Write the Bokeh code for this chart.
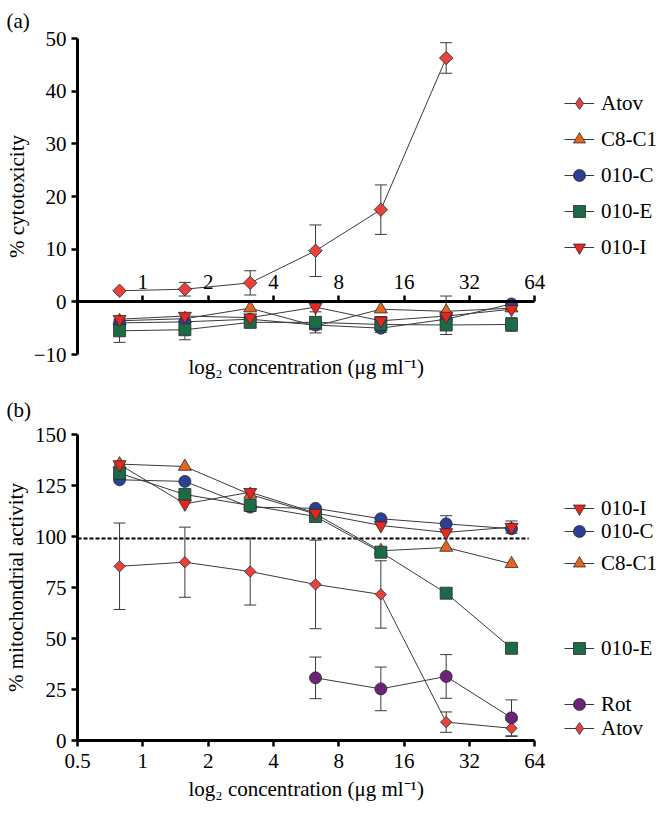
from bokeh.plotting import figure
from bokeh.models import (ColumnDataSource, Whisker, TeeHead, LogAxis, FixedTicker,
                          Legend, LegendItem, Range1d, Title)
from bokeh.layouts import column
from bokeh.embed import file_html
from bokeh.resources import INLINE

# ---------------- data ----------------
conc = [0.78125, 1.5625, 3.125, 6.25, 12.5, 25, 50]

# panel (a): % cytotoxicity
a_atov_conc = [0.78125, 1.5625, 3.125, 6.25, 12.5, 25]
a_atov = [2.1, 2.4, 3.6, 9.7, 17.5, 46.3]
a_atov_err = [0.0, 1.3, 2.3, 4.9, 4.7, 2.9]
a_c8c1 = [-3.6, -3.2, -1.2, -4.6, -1.4, -1.8, -1.2]
a_c8c1_err = [0, 0, 0, 0, 0, 2.9, 0]
a_010c = [-4.0, -3.8, -3.3, -4.4, -5.0, -3.3, -0.4]
a_010c_err = [0, 0, 0, 0, 0, 0, 0]
a_010e = [-5.5, -5.3, -3.9, -3.9, -4.3, -4.4, -4.3]
a_010e_err = [2.2, 1.9, 1.0, 2.0, 1.5, 1.8, 1.3]
a_010i = [-3.3, -2.7, -3.0, -1.0, -3.6, -2.7, -1.4]
a_010i_err = [0, 0, 0, 0, 0, 0, 0]

# panel (b): % mitochondrial activity
b_atov = [85.4, 87.4, 82.8, 76.5, 71.6, 9.0, 6.0]
b_atov_err = [21.2, 17.2, 16.4, 21.7, 16.5, 5.0, 4.0]
b_c8c1 = [135.5, 134.3, 120.6, 111.0, 93.0, 94.6, 86.6]
b_c8c1_err = [0, 0, 0, 0, 0, 0, 0]
b_010c = [127.8, 127.0, 114.4, 113.8, 108.7, 106.2, 103.8]
b_010c_err = [0, 0, 0, 0, 0, 4.0, 0]
b_010e = [131.0, 120.6, 115.2, 109.8, 92.3, 72.2, 45.2]
b_010e_err = [0, 0, 0, 0, 2.0, 0, 0]
b_010i = [135.3, 116.0, 121.7, 111.5, 105.4, 102.0, 104.6]
b_010i_err = [0, 0, 0, 0, 0, 0, 3.0]
rot_conc = [6.25, 12.5, 25, 50]
b_rot = [30.7, 25.3, 31.4, 11.1]
b_rot_err = [10.2, 10.7, 10.7, 8.8]

control_x = [0.5, 60]
control_y = [99, 99]

a_xticks = [1, 2, 4, 8, 16, 32, 64]
a_xlabels = ["1", "2", "4", "8", "16", "32", "64"]
a_yticks = [-10, 0, 10, 20, 30, 40, 50]
a_ylabels = ["\u221210", "0", "10", "20", "30", "40", "50"]
b_xticks = [0.5, 1, 2, 4, 8, 16, 32, 64]
b_xlabels = ["0.5", "1", "2", "4", "8", "16", "32", "64"]
b_yticks = [0, 25, 50, 75, 100, 125, 150]
b_ylabels = ["0", "25", "50", "75", "100", "125", "150"]

x_label = "log\u2082 concentration (\u03bcg ml\u207b\u00b9)"

# ---------------- style / layout ----------------
FONT = "Liberation Serif"
FS = "21px"
LINE_C = "#3a3a3a"
EDGE_C = "#2a2a2a"
C_ATOV = "#E8413E"
C_C8C1 = "#E5671F"
C_010C = "#2B3F94"
C_010E = "#1C6B48"
C_010I = "#E3281F"
C_ROT = "#6B2277"
W = 657
LEFT = 71
PX_PER_DOUBLING = 66
X_START = 0.5
X_AXIS_END = 64
X_END = X_START * 2 ** ((W - LEFT) / PX_PER_DOUBLING)  # frame extends over legend area
XLABEL_OFFSET = 111
LEG_X = 487


def style_axis(ax, standoff=5):
    ax.axis_line_width = 3
    ax.axis_line_color = "black"
    ax.major_tick_line_width = 2.5
    ax.major_tick_line_color = "black"
    ax.major_tick_out = 6
    ax.major_tick_in = 0
    ax.minor_tick_line_color = None
    ax.major_label_text_font = FONT
    ax.major_label_text_font_size = FS
    ax.major_label_text_color = "black"
    ax.major_label_standoff = standoff
    ax.axis_label_text_font = FONT
    ax.axis_label_text_font_size = FS
    ax.axis_label_text_font_style = "normal"
    ax.axis_label_text_color = "black"


def add_whiskers(p, x, y, err):
    xs = [a for a, e in zip(x, err) if e > 0]
    up = [b + e for b, e in zip(y, err) if e > 0]
    lo = [b - e for b, e in zip(y, err) if e > 0]
    if not xs:
        return
    src = ColumnDataSource(dict(base=xs, upper=up, lower=lo))
    w = Whisker(source=src, base="base", upper="upper", lower="lower", dimension="height",
                line_color=LINE_C, line_width=1,
                upper_head=TeeHead(size=12, line_color=LINE_C, line_width=1),
                lower_head=TeeHead(size=12, line_color=LINE_C, line_width=1))
    p.add_layout(w)


def build(p, series):
    lines, marks = {}, {}
    for name, x, y, err, marker, color, size, angle in series:
        add_whiskers(p, x, y, err)
    for name, x, y, err, marker, color, size, angle in series:
        src = ColumnDataSource(dict(x=x, y=y))
        lines[name] = p.line("x", "y", source=src, line_color=LINE_C, line_width=1)
    for name, x, y, err, marker, color, size, angle in series:
        src = ColumnDataSource(dict(x=x, y=y))
        marks[name] = p.scatter("x", "y", source=src, marker=marker, size=size, angle=angle,
                                fill_color=color, line_color=EDGE_C, line_width=0.8)
        if name == "Atov":
            # hidden twin, only used to draw a diamond in the legend
            marks["Atov_leg"] = p.scatter("x", "y", source=src, marker="diamond", size=12,
                                          fill_color=color, line_color=EDGE_C,
                                          line_width=0.8, visible=False)
    return lines, marks


def legend(items, loc, spacing=6):
    return Legend(items=items, location=loc, orientation="vertical",
                  glyph_width=30, glyph_height=30, label_height=30, spacing=spacing,
                  padding=0, margin=0, label_standoff=7,
                  label_text_font=FONT, label_text_font_size=FS, label_text_color="black",
                  label_text_baseline="middle",
                  border_line_color=None, background_fill_alpha=0)


def style_title(t, standoff):
    t.align = "left"
    t.offset = -LEFT
    t.text_font = FONT
    t.text_font_size = FS
    t.text_font_style = "normal"
    t.text_color = "black"
    t.standoff = standoff


def xlabel_title(standoff):
    return Title(text=x_label, align="left", offset=XLABEL_OFFSET, text_font=FONT,
                 text_font_size=FS, text_font_style="normal", text_color="black",
                 vertical_align="top", standoff=standoff)


# ---------------- panel (a) ----------------
pa = figure(width=W, height=381, x_axis_type="log", x_axis_location=None,
            x_range=Range1d(X_START, X_END), y_range=Range1d(-10, 50),
            output_backend="svg", toolbar_location=None, title="(a)",
            min_border_left=LEFT, min_border_right=0, min_border_top=38, min_border_bottom=27)
pa.grid.visible = False
pa.outline_line_color = None
style_title(pa.title, 11)

top = LogAxis(ticker=FixedTicker(ticks=a_xticks),
              major_label_overrides=dict(zip(a_xticks, a_xlabels)),
              fixed_location=0, bounds=(X_START, X_AXIS_END))
style_axis(top, 7)
pa.add_layout(top, "above")
pa.add_layout(xlabel_title(0), "below")

ya = pa.yaxis[0]
style_axis(ya)
ya.ticker = FixedTicker(ticks=a_yticks)
ya.major_label_overrides = dict(zip(a_yticks, a_ylabels))
ya.axis_label = "% cytotoxicity"
ya.axis_label_standoff = 2

series_a = [
    ("Atov", a_atov_conc, a_atov, a_atov_err, "square", C_ATOV, 9.5, 0.785398),
    ("C8-C1", conc, a_c8c1, a_c8c1_err, "triangle", C_C8C1, 13, 0),
    ("010-C", conc, a_010c, a_010c_err, "circle", C_010C, 12, 0),
    ("010-E", conc, a_010e, a_010e_err, "square", C_010E, 12, 0),
    ("010-I", conc, a_010i, a_010i_err, "inverted_triangle", C_010I, 13, 0),
]
la, ma = build(pa, series_a)
items_a = [
    LegendItem(label="Atov", renderers=[la["Atov"], ma["Atov_leg"]]),
    LegendItem(label="C8-C1", renderers=[la["C8-C1"], ma["C8-C1"]]),
    LegendItem(label="010-C", renderers=[la["010-C"], ma["010-C"]]),
    LegendItem(label="010-E", renderers=[la["010-E"], ma["010-E"]]),
    LegendItem(label="010-I", renderers=[la["010-I"], ma["010-I"]]),
]
pa.add_layout(legend(items_a, (LEG_X, 92)))

# ---------------- panel (b) ----------------
pb = figure(width=W, height=435, x_axis_type="log",
            x_range=Range1d(X_START, X_END), y_range=Range1d(0, 150),
            output_backend="svg", toolbar_location=None, title="(b)",
            min_border_left=LEFT, min_border_right=0, min_border_top=53, min_border_bottom=76)
pb.grid.visible = False
pb.outline_line_color = None
style_title(pb.title, 26)

xb = pb.xaxis[0]
style_axis(xb, 7)
xb.ticker = FixedTicker(ticks=b_xticks)
xb.major_label_overrides = dict(zip(b_xticks, b_xlabels))
xb.bounds = (X_START, X_AXIS_END)
pb.add_layout(xlabel_title(13), "below")

yb = pb.yaxis[0]
style_axis(yb)
yb.ticker = FixedTicker(ticks=b_yticks)
yb.major_label_overrides = dict(zip(b_yticks, b_ylabels))
yb.axis_label = "% mitochondrial activity"
yb.axis_label_standoff = 4

pb.line(control_x, control_y, line_color="black", line_width=2, line_dash="4 2")

series_b = [
    ("Atov", conc, b_atov, b_atov_err, "square", C_ATOV, 8, 0.785398),
    ("C8-C1", conc, b_c8c1, b_c8c1_err, "triangle", C_C8C1, 13, 0),
    ("010-C", conc, b_010c, b_010c_err, "circle", C_010C, 12, 0),
    ("010-E", conc, b_010e, b_010e_err, "square", C_010E, 12, 0),
    ("010-I", conc, b_010i, b_010i_err, "inverted_triangle", C_010I, 13, 0),
    ("Rot", rot_conc, b_rot, b_rot_err, "circle", C_ROT, 12, 0),
]
lb, mb = build(pb, series_b)
leg_b = [
    ("010-I", [lb["010-I"], mb["010-I"]], 217),
    ("010-C", [lb["010-C"], mb["010-C"]], 194),
    ("C8-C1", [lb["C8-C1"], mb["C8-C1"]], 162),
    ("010-E", [lb["010-E"], mb["010-E"]], 77),
    ("Rot", [lb["Rot"], mb["Rot"]], 21),
    ("Atov", [lb["Atov"], mb["Atov_leg"]], -3),
]
for name, rends, vy in leg_b:
    pb.add_layout(legend([LegendItem(label=name, renderers=rends)], (LEG_X, vy)))

layout = column(pa, pb)
open("out.html", "w").write(file_html(layout, INLINE))
